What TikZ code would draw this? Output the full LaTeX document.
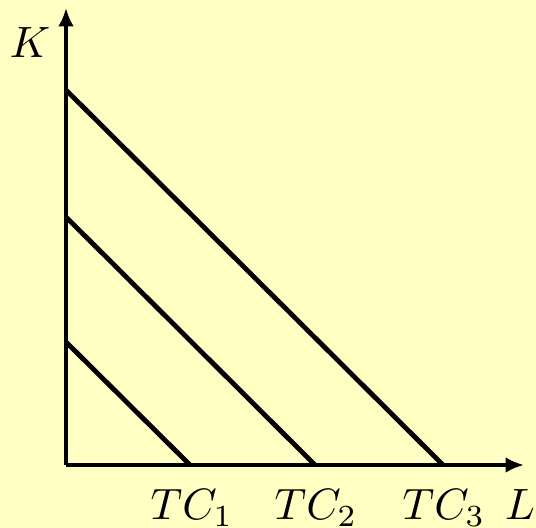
\documentclass[tikz,border=0pt]{standalone}
\usetikzlibrary{arrows.meta}
\definecolor{bgyellow}{RGB}{255,255,196}
\begin{document}
\begin{tikzpicture}[x=0.228pt,y=0.228pt,
  axis/.style={line width=1.1pt,-{Latex[length=4.2pt,width=3.6pt]}},
  budget/.style={line width=1.1pt},
  lbl/.style={inner sep=0pt}]
\fill[bgyellow] (0,0) rectangle (536,528);
\useasboundingbox (0,0) rectangle (536,528);
\coordinate (O) at (66,63);
\coordinate (Ytop) at (66,520);
\coordinate (Xend) at (524,63);
\coordinate (a1) at (66,186);
\coordinate (b1) at (190,63);
\coordinate (a2) at (66,311);
\coordinate (b2) at (315,63);
\coordinate (a3) at (66,438);
\coordinate (b3) at (443,63);
\draw[budget] (a1) -- (b1);
\draw[budget] (a2) -- (b2);
\draw[budget] (a3) -- (b3);
\draw[axis] (O) -- (Xend);
\draw[axis] (O) -- (Ytop);
\node[lbl,anchor=base] (K) at (30,470) {$K$};
\node[lbl,anchor=base] (L) at (520,8) {$L$};
\node[lbl,anchor=base] (tc1) at (192,8) {$TC_1$};
\node[lbl,anchor=base] (tc2) at (316,8) {$TC_2$};
\node[lbl,anchor=base] (tc3) at (444,8) {$TC_3$};
\end{tikzpicture}
\end{document}
